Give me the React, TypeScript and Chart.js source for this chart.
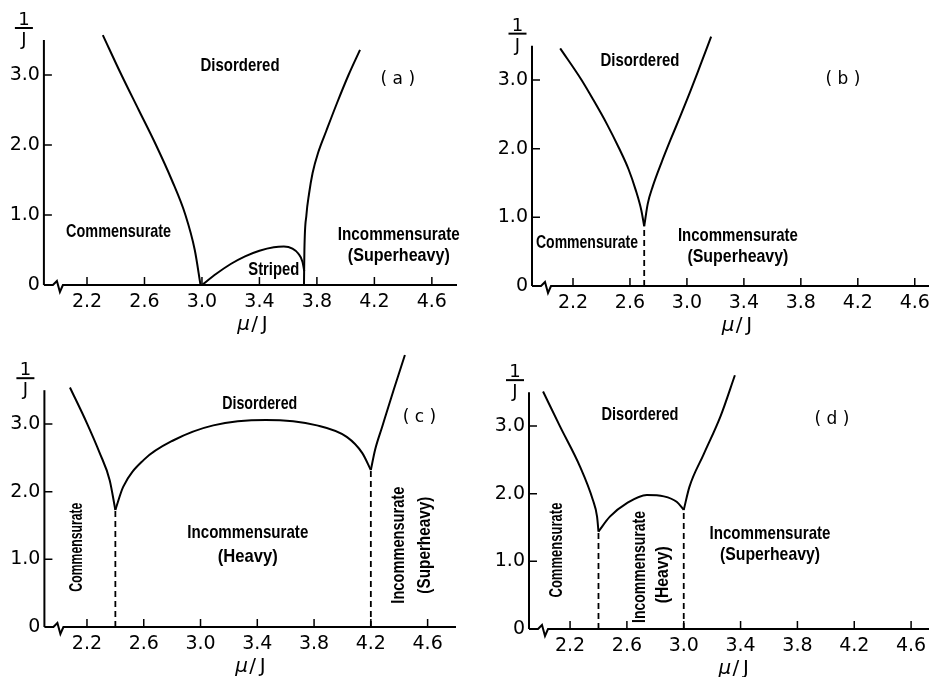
import React, { useEffect, useRef } from "react";
import { Chart, registerables } from "chart.js";

Chart.register(...registerables);

// ---------- shared axis ticks ----------
const xTickValues = [2.2, 2.6, 3.0, 3.4, 3.8, 4.2, 4.6];
const xTickLabels = ["2.2", "2.6", "3.0", "3.4", "3.8", "4.2", "4.6"];
const yTickValues = [0, 1, 2, 3];
const yTickLabels = ["0", "1.0", "2.0", "3.0"];

// ---------- panel (a) ----------
const aLeftX = [2.31, 2.44, 2.56, 2.68, 2.79, 2.885, 2.95, 2.99];
const aLeftY = [3.57, 3.0, 2.5, 2.0, 1.5, 1.0, 0.5, 0.0];
const aRightX = [3.71, 3.713, 3.727, 3.745, 3.77, 3.81, 3.865, 3.94, 4.02, 4.1];
const aRightY = [0.0, 0.5, 1.0, 1.3, 1.6, 1.9, 2.2, 2.6, 3.0, 3.36];
const aStripedX = [3.0, 3.1, 3.2, 3.3, 3.4, 3.5, 3.57, 3.63, 3.67, 3.7, 3.712];
const aStripedY = [0.0, 0.16, 0.3, 0.41, 0.49, 0.54, 0.55, 0.52, 0.45, 0.33, 0.2];

// ---------- panel (b) ----------
const bLeftX = [2.11, 2.26, 2.34, 2.44, 2.52, 2.59, 2.64, 2.68, 2.7];
const bLeftY = [3.46, 3.0, 2.72, 2.35, 2.02, 1.7, 1.4, 1.1, 0.87];
const bRightX = [2.7, 2.725, 2.76, 2.82, 2.885, 2.955, 3.025, 3.095, 3.17];
const bRightY = [0.87, 1.2, 1.45, 1.79, 2.13, 2.48, 2.84, 3.22, 3.63];
const bDashX = [2.7, 2.7];
const bDashY = [0, 0.87];

// ---------- panel (c) ----------
const cLeftX = [2.08, 2.2, 2.29, 2.36, 2.4];
const cLeftY = [3.54, 3.01, 2.57, 2.17, 1.73];
const cHeavyX = [2.4, 2.455, 2.6, 2.81, 3.09, 3.46, 3.82, 4.03, 4.14, 4.2];
const cHeavyY = [1.73, 2.07, 2.47, 2.76, 2.98, 3.06, 2.98, 2.81, 2.57, 2.32];
const cRightX = [4.2, 4.23, 4.28, 4.36, 4.44];
const cRightY = [2.32, 2.62, 2.96, 3.5, 4.02];
const cDash1X = [2.4, 2.4];
const cDash1Y = [0, 1.73];
const cDash2X = [4.2, 4.2];
const cDash2Y = [0, 2.32];

// ---------- panel (d) ----------
const dLeftX = [2.01, 2.13, 2.27, 2.36, 2.39, 2.4];
const dLeftY = [3.51, 2.99, 2.4, 1.91, 1.66, 1.44];
const dHeavyX = [2.4, 2.48, 2.6, 2.74, 2.86, 2.95, 3.0];
const dHeavyY = [1.44, 1.66, 1.86, 1.98, 1.96, 1.88, 1.76];
const dRightX = [3.0, 3.04, 3.14, 3.26, 3.36];
const dRightY = [1.76, 2.1, 2.58, 3.15, 3.75];
const dDash1X = [2.4, 2.4];
const dDash1Y = [0, 1.44];
const dDash2X = [3.0, 3.0];
const dDash2Y = [0, 1.76];

type Txt = { t: string; x: number; y: number; w: number; v?: boolean };
type Series = { xs: number[]; ys: number[]; dash?: boolean };
type PanelCfg = {
  left: number; top: number; w: number; h: number;
  xMin: number; xMax: number; yMax: number;
  yAxisW: number; xAxisH: number; padTop: number; padRight: number;
  fracDx: number;
  series: Series[];
  texts: Txt[];
  label: string; labelX: number; labelY: number;
};

const pts = (xs: number[], ys: number[]) => xs.map((x, i) => ({ x, y: ys[i] }));

const panels: PanelCfg[] = [
  {
    left: 0, top: 0, w: 464, h: 340,
    xMin: 1.9, xMax: 4.775, yMax: 4.0,
    yAxisW: 43.9, xAxisH: 55, padTop: 5, padRight: 7, fracDx: -20,
    series: [
      { xs: aLeftX, ys: aLeftY },
      { xs: aRightX, ys: aRightY },
      { xs: aStripedX, ys: aStripedY },
    ],
    texts: [
      { t: "Disordered", x: 3.265, y: 3.13, w: 79 },
      { t: "Commensurate", x: 2.42, y: 0.757, w: 105 },
      { t: "Striped", x: 3.5, y: 0.214, w: 51 },
      { t: "Incommensurate", x: 4.37, y: 0.714, w: 122 },
      { t: "(Superheavy)", x: 4.37, y: 0.414, w: 102 },
    ],
    label: "( a )", labelX: 4.363, labelY: 2.94,
  },
  {
    left: 464, top: 0, w: 465, h: 340,
    xMin: 1.912, xMax: 4.7, yMax: 4.0,
    yAxisW: 68, xAxisH: 54, padTop: 11.3, padRight: 0, fracDx: -14.5,
    series: [
      { xs: bLeftX, ys: bLeftY },
      { xs: bRightX, ys: bRightY },
      { xs: bDashX, ys: bDashY, dash: true },
    ],
    texts: [
      { t: "Disordered", x: 2.67, y: 3.28, w: 79 },
      { t: "Commensurate", x: 2.298, y: 0.626, w: 102 },
      { t: "Incommensurate", x: 3.358, y: 0.728, w: 120 },
      { t: "(Superheavy)", x: 3.358, y: 0.42, w: 101 },
    ],
    label: "( b )", labelX: 4.095, labelY: 3.0,
  },
  {
    left: 0, top: 340, w: 464, h: 337,
    xMin: 1.9, xMax: 4.8, yMax: 4.1,
    yAxisW: 44.4, xAxisH: 50, padTop: 9.6, padRight: 8, fracDx: -19,
    series: [
      { xs: cLeftX, ys: cLeftY },
      { xs: cHeavyX, ys: cHeavyY },
      { xs: cRightX, ys: cRightY },
      { xs: cDash1X, ys: cDash1Y, dash: true },
      { xs: cDash2X, ys: cDash2Y, dash: true },
    ],
    texts: [
      { t: "Disordered", x: 3.417, y: 3.295, w: 75 },
      { t: "Incommensurate", x: 3.333, y: 1.39, w: 121 },
      { t: "(Heavy)", x: 3.333, y: 1.034, w: 60 },
      { t: "Commensurate", x: 2.13, y: 1.18, w: 89, v: true },
      { t: "Incommensurate", x: 4.4, y: 1.21, w: 117, v: true },
      { t: "(Superheavy)", x: 4.578, y: 1.21, w: 97, v: true },
    ],
    label: "( c )", labelX: 4.543, labelY: 3.09,
  },
  {
    left: 464, top: 340, w: 465, h: 337,
    xMin: 1.911, xMax: 4.726, yMax: 4.0,
    yAxisW: 65, xAxisH: 48, padTop: 18.3, padRight: 0, fracDx: -14,
    series: [
      { xs: dLeftX, ys: dLeftY },
      { xs: dHeavyX, ys: dHeavyY },
      { xs: dRightX, ys: dRightY },
      { xs: dDash1X, ys: dDash1Y, dash: true },
      { xs: dDash2X, ys: dDash2Y, dash: true },
    ],
    texts: [
      { t: "Disordered", x: 2.692, y: 3.16, w: 77 },
      { t: "Commensurate", x: 2.108, y: 1.167, w: 95, v: true },
      { t: "Incommensurate", x: 2.692, y: 0.916, w: 112, v: true },
      { t: "(Heavy)", x: 2.854, y: 0.8, w: 57, v: true },
      { t: "Incommensurate", x: 3.607, y: 1.404, w: 121 },
      { t: "(Superheavy)", x: 3.607, y: 1.094, w: 100 },
    ],
    label: "( d )", labelX: 4.043, labelY: 3.1,
  },
];

const AXIS_TOP = 3.5;
const TITLE_X = 3.36;
const TICK_FONT = '"DejaVu Sans", sans-serif';
const LABEL_FONT = 'bold 19px "Liberation Sans", Arial, sans-serif';

function makeDecor(p: PanelCfg) {
  return {
    id: "decor",
    afterDraw(chart: any) {
      const { ctx, chartArea } = chart;
      const xs = chart.scales.x;
      const ys = chart.scales.y;
      const L = chartArea.left;
      const y0 = ys.getPixelForValue(0);
      const yTop = ys.getPixelForValue(AXIS_TOP);
      ctx.save();
      ctx.strokeStyle = "#000";
      ctx.fillStyle = "#000";
      ctx.lineWidth = 2;
      ctx.lineJoin = "miter";
      // y axis
      ctx.beginPath();
      ctx.moveTo(L, y0);
      ctx.lineTo(L, yTop);
      ctx.stroke();
      // x axis with break mark
      ctx.beginPath();
      ctx.moveTo(L, y0);
      ctx.lineTo(L + 9, y0);
      ctx.lineTo(L + 13, y0 - 4);
      ctx.lineTo(L + 16, y0 + 7);
      ctx.lineTo(L + 19, y0);
      ctx.lineTo(chartArea.right, y0);
      ctx.stroke();
      // tick marks (inside)
      ctx.lineWidth = 1.5;
      ctx.beginPath();
      xTickValues.forEach((v) => {
        const px = xs.getPixelForValue(v);
        ctx.moveTo(px, y0);
        ctx.lineTo(px, y0 - 8);
      });
      yTickValues.forEach((v) => {
        if (v === 0) return;
        const py = ys.getPixelForValue(v);
        ctx.moveTo(L, py);
        ctx.lineTo(L + 8, py);
      });
      ctx.stroke();
      // y title 1/J
      const fx = L + p.fracDx;
      ctx.font = `18px ${TICK_FONT}`;
      ctx.textAlign = "center";
      ctx.textBaseline = "alphabetic";
      ctx.fillText("1", fx, yTop - 15);
      ctx.fillText("J", fx, yTop + 5);
      ctx.lineWidth = 2;
      ctx.beginPath();
      ctx.moveTo(fx - 9, yTop - 12);
      ctx.lineTo(fx + 9, yTop - 12);
      ctx.stroke();
      // x title mu/J
      const cx = xs.getPixelForValue(TITLE_X);
      const by = y0 + 45;
      ctx.font = `italic 20px ${TICK_FONT}`;
      ctx.fillText("μ", cx - 10, by);
      ctx.font = `20px ${TICK_FONT}`;
      ctx.fillText("/", cx + 1, by);
      ctx.fillText("J", cx + 11, by);
      // panel label
      ctx.font = `17px ${TICK_FONT}`;
      ctx.textBaseline = "middle";
      ctx.fillText(p.label, xs.getPixelForValue(p.labelX), ys.getPixelForValue(p.labelY));
      // region labels
      ctx.font = LABEL_FONT;
      p.texts.forEach((tx) => {
        ctx.save();
        ctx.translate(xs.getPixelForValue(tx.x), ys.getPixelForValue(tx.y));
        if (tx.v) ctx.rotate(-Math.PI / 2);
        ctx.textAlign = "center";
        ctx.textBaseline = "middle";
        ctx.fillText(tx.t, 0, 0, tx.w);
        ctx.restore();
      });
      ctx.restore();
    },
  };
}

function buildConfig(p: PanelCfg): any {
  return {
    type: "scatter",
    data: {
      datasets: p.series.map((s) => ({
        data: pts(s.xs, s.ys),
        showLine: true,
        borderColor: "#000",
        backgroundColor: "#000",
        borderWidth: s.dash ? 1.8 : 2,
        borderDash: s.dash ? [6, 4] : [],
        cubicInterpolationMode: s.dash ? "default" : "monotone",
        tension: s.dash ? 0 : 0.4,
        pointRadius: 0,
        pointHoverRadius: 0,
        fill: false,
      })),
    },
    options: {
      animation: false,
      responsive: false,
      events: [],
      layout: { padding: { left: 0, right: p.padRight, top: p.padTop, bottom: 0 } },
      plugins: { legend: { display: false }, tooltip: { enabled: false }, title: { display: false } },
      scales: {
        x: {
          type: "linear",
          min: p.xMin,
          max: p.xMax,
          afterBuildTicks: (s: any) => {
            s.ticks = xTickValues.map((v) => ({ value: v }));
          },
          afterFit: (s: any) => {
            s.height = p.xAxisH;
            s.paddingLeft = 0;
            s.paddingRight = 0;
          },
          ticks: {
            autoSkip: false,
            maxRotation: 0,
            minRotation: 0,
            padding: 5.5,
            color: "#000",
            font: { family: TICK_FONT, size: 19 },
            callback: (_v: any, i: number) => xTickLabels[i],
          },
          grid: { display: false, drawTicks: false },
          border: { display: false },
        },
        y: {
          type: "linear",
          min: 0,
          max: p.yMax,
          afterBuildTicks: (s: any) => {
            s.ticks = yTickValues.map((v) => ({ value: v }));
          },
          afterFit: (s: any) => {
            s.width = p.yAxisW;
            s.paddingTop = 0;
            s.paddingBottom = 0;
          },
          ticks: {
            autoSkip: false,
            padding: 4,
            color: "#000",
            font: { family: TICK_FONT, size: 19 },
            callback: (_v: any, i: number) => yTickLabels[i],
          },
          grid: { display: false, drawTicks: false },
          border: { display: false },
        },
      },
    },
    plugins: [makeDecor(p)],
  };
}

function Panel({ p }: { p: PanelCfg }) {
  const ref = useRef<HTMLCanvasElement>(null);
  useEffect(() => {
    if (!ref.current) return;
    const chart = new Chart(ref.current, buildConfig(p));
    return () => chart.destroy();
  }, [p]);
  return (
    <canvas
      ref={ref}
      width={p.w}
      height={p.h}
      style={{ position: "absolute", left: p.left, top: p.top, width: p.w, height: p.h }}
    />
  );
}

export default function App() {
  return (
    <div
      style={{
        position: "fixed",
        left: 0,
        top: 0,
        width: 929,
        height: 677,
        background: "#fff",
        overflow: "hidden",
      }}
    >
      {panels.map((p, i) => (
        <Panel key={i} p={p} />
      ))}
    </div>
  );
}
